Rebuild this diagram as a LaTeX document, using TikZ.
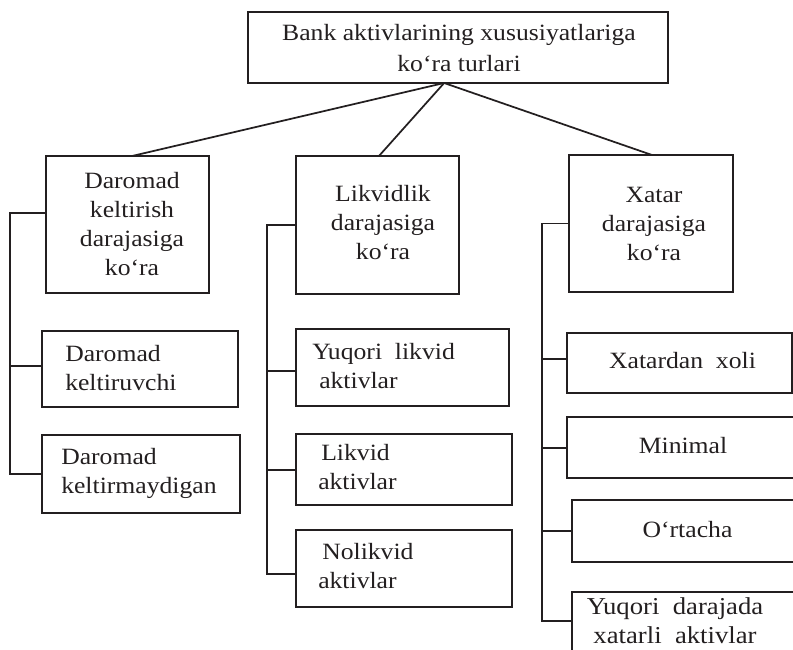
\documentclass[tikz,border=0pt]{standalone}
\usepackage{fontspec}
\setmainfont{Liberation Serif}[FakeStretch=1.1]
\usetikzlibrary{fit,calc}
\definecolor{ink}{HTML}{231F20}

\begin{document}
\begin{tikzpicture}[x=0.75pt,y=-0.75pt,
  box/.style={draw=ink,line width=1.3pt,inner sep=0pt,outer sep=0pt},
  conn/.style={draw=ink,line width=1.3pt},
  lbl/.style={inner sep=0pt,text=ink,font=\fontsize{17.5}{21.75}\selectfont,
    execute at begin node=\strut,execute at end node=\strut},
  lbltop/.style={lbl,font=\fontsize{17.5}{23.25}\selectfont},
  lblbig/.style={lbl,font=\fontsize{18.2}{21.75}\selectfont}]

\clip (0,0) rectangle (793,650);

% frames
\node[box,fit={(248,12) (668,83)}] (top) {};
\node[box,fit={(46,156) (209,293)}] (L0) {};
\node[box,fit={(42,331) (238,407)}] (L1) {};
\node[box,fit={(42,435) (240,513)}] (L2) {};
\node[box,fit={(296,156) (459,294)}] (M0) {};
\node[box,fit={(296,329) (509,406)}] (M1) {};
\node[box,fit={(296,434) (512,505)}] (M2) {};
\node[box,fit={(296,530) (512,607)}] (M3) {};
\node[box,fit={(569,155) (733,292)}] (R0) {};
\node[box,fit={(567,333) (792,393)}] (R1) {};
\node[box,fit={(567,417) (800,478)}] (R2) {};
\node[box,fit={(572,500) (800,562)}] (R3) {};
\node[box,fit={(572,592) (800,680)}] (R4) {};

% texts
\node[lbltop,align=center] (tTop) at (459,53) {Bank aktivlarining xususiyatlariga\\ko‘ra turlari};
\node[lbl,align=center] (tL0) at (132,227.8) {Daromad\\keltirish\\darajasiga\\ko‘ra};
\node[lbl,align=left,anchor=west] (tL1) at (65,372.6) {Daromad\\keltiruvchi};
\node[lbl,align=left,anchor=west] (tL2) at (61,475.7) {Daromad\\keltirmaydigan};
\node[lbl,align=center] (tM0) at (383,227.2) {Likvidlik\\darajasiga\\ko‘ra};
\node[lbl,align=left,anchor=west] (tM1) at (312,370.2) {Yuqori\ \ likvid\\\hspace*{5.25pt}aktivlar};
\node[lbl,align=left,anchor=west] (tM2) at (318,471.2) {\hspace*{2.25pt}Likvid\\aktivlar};
\node[lbl,align=left,anchor=west] (tM3) at (318,570.7) {\hspace*{3pt}Nolikvid\\aktivlar};
\node[lbl,align=center] (tR0) at (654,228.7) {Xatar\\darajasiga\\ko‘ra};
\node[lbl] (tR1) at (682.5,362.2) {Xatardan\ \ xoli};
\node[lbl] (tR2) at (683,447.2) {Minimal};
\node[lbl] (tR3) at (687.5,531.2) {O‘rtacha};
\node[lblbig,align=center] (tR4) at (675,624.7) {Yuqori\ \ darajada\\xatarli\ \ aktivlar};

% links from the root
\coordinate (apex) at ($(top.south west)!0.467!(top.south east)$);
\draw[conn] (apex) -- ($(L0.north west)!0.528!(L0.north east)$);
\draw[conn] (apex) -- ($(M0.north west)!0.509!(M0.north east)$);
\draw[conn] (apex) -- ($(R0.north west)!0.506!(R0.north east)$);

% left column spine
\coordinate (sL) at (10,300);
\draw[conn] ($(L0.north west)!0.416!(L0.south west)$) -| (sL) |- (L2.west);
\draw[conn] ($(L1.north west)!0.46!(L1.south west)$) -- ++(-32,0);

% middle column spine
\coordinate (sM) at (267,400);
\draw[conn] (M0.west) -| (sM) |- ($(M3.north west)!0.57!(M3.south west)$);
\draw[conn] ($(M1.north west)!0.545!(M1.south west)$) -- ++(-29,0);
\draw[conn] ($(M2.north west)!0.507!(M2.south west)$) -- ++(-29,0);

% right column spine
\coordinate (sR) at (542,400);
\draw[conn] (R0.west) -| (sR) |- ($(R4.north west)!0.33!(R4.south west)$);
\draw[conn] ($(R1.north west)!0.43!(R1.south west)$) -- ++(-25,0);
\draw[conn] ($(R2.north west)!0.508!(R2.south west)$) -- ++(-25,0);
\draw[conn] (R3.west) -- ++(-30,0);
\end{tikzpicture}
\end{document}
